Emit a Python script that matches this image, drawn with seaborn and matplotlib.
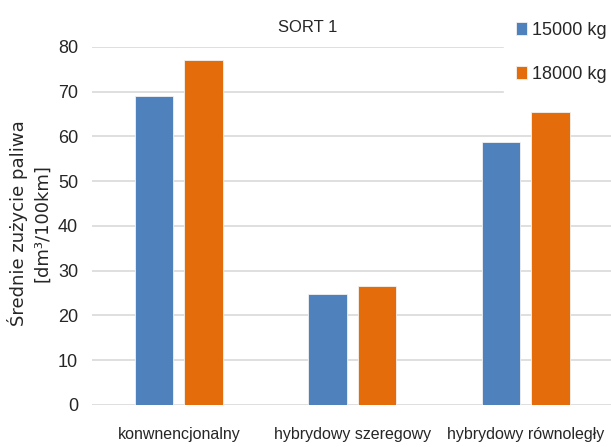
import pandas as pd
import matplotlib
matplotlib.use("Agg")
import matplotlib.pyplot as plt
import seaborn as sns

# Data
categories = ["konwnencjonalny", "hybrydowy szeregowy", "hybrydowy równoległy"]
series_names = ["15000 kg", "18000 kg"]
values_15000 = [69.1, 24.8, 58.8]
values_18000 = [77.1, 26.6, 65.5]
y_ticks = [0, 10, 20, 30, 40, 50, 60, 70, 80]
colors = ["#4F81BD", "#E46C0A"]

df = pd.DataFrame({
    "kategoria": categories * 2,
    "seria": [series_names[0]] * 3 + [series_names[1]] * 3,
    "wartosc": values_15000 + values_18000,
})

sns.set_style("white")
plt.rcParams["font.family"] = ["Liberation Sans", "DejaVu Sans"]

fig = plt.figure(figsize=(6.11, 4.47), dpi=100)
ax = fig.add_axes([0.1506, 0.094, 0.852, 0.801])

sns.barplot(data=df, x="kategoria", y="wartosc", hue="seria",
            palette=colors, saturation=1, width=0.57, gap=0.22, ax=ax,
            edgecolor="#F2F2F2", linewidth=0.6, zorder=3)

ax.set_ylim(0, 80)
ax.set_xlim(-0.5, 2.5)
ax.set_yticks(y_ticks)
ax.yaxis.grid(True, color="#D9D9D9", linewidth=1.2, zorder=0)
ax.set_axisbelow(True)
for s in ["top", "right", "left", "bottom"]:
    ax.spines[s].set_visible(False)
ax.tick_params(axis="both", length=0, colors="#262626")
ax.tick_params(axis="y", pad=10, labelsize=13)
ax.tick_params(axis="x", pad=16, labelsize=11.5)
ax.set_xlabel("")
ax.set_ylabel("")

# y label in two centred lines
fig.text(18 / 611, 0.50, "Średnie zużycie paliwa", rotation=90,
         ha="center", va="center", fontsize=13, color="#262626",
         family=["DejaVu Sans"])
fig.text(42 / 611, 0.50, "[dm³/100km]", rotation=90,
         ha="center", va="center", fontsize=13, color="#262626",
         family=["DejaVu Sans"])

fig.text(308 / 611, 1 - 27 / 447, "SORT 1", ha="center", va="center",
         fontsize=12, color="#262626")

leg = ax.legend(loc="upper right", bbox_to_anchor=(1.028, 1.0),
                bbox_transform=fig.transFigure, frameon=True,
                handlelength=0.6, handleheight=0.7, handletextpad=0.25,
                labelspacing=1.5, fontsize=13, borderpad=0.7)
leg.get_frame().set_facecolor("white")
leg.get_frame().set_edgecolor("white")
leg.get_frame().set_alpha(1)
leg.set_zorder(5)

fig.savefig("out.png", dpi=100)
